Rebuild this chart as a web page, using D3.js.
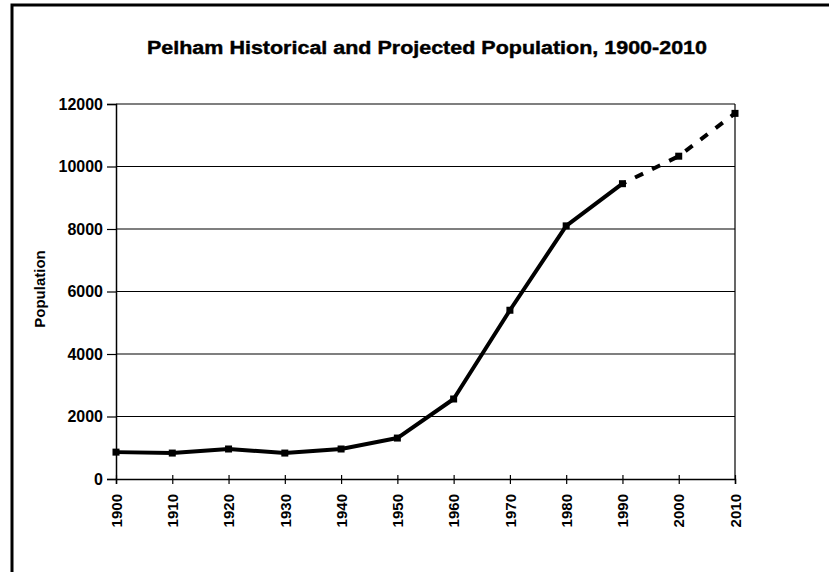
<!DOCTYPE html>
<html>
<head>
<meta charset="utf-8">
<script src="https://cdn.jsdelivr.net/npm/d3@7"></script>
<style>
  body { margin: 0; background: #fff; }
  text { font-family: "Liberation Sans", Arial, sans-serif; font-weight: bold; fill: #000; }
</style>
</head>
<body>
<div id="chart"></div>
<script>
// census years and population (historical to 1990, projected after)
const years = [1900, 1910, 1920, 1930, 1940, 1950, 1960, 1970, 1980, 1990, 2000, 2010];
const population = [860, 830, 960, 830, 960, 1310, 2560, 5400, 8100, 9450, 10330, 11700];
const lastHistorical = 1990;
const yTicks = [0, 2000, 4000, 6000, 8000, 10000, 12000];
const title = "Pelham Historical and Projected Population, 1900-2010";
const yLabel = "Population";

const width = 829, height = 572;
const plot = { left: 116, right: 735, top: 104, bottom: 479 };

const data = years.map((y, i) => ({ year: y, value: population[i] }));
const historical = data.filter(d => d.year <= lastHistorical);
const projected = data.filter(d => d.year >= lastHistorical);

const x = d3.scaleLinear().domain([1900, 2010]).range([plot.left, plot.right]);
const y = d3.scaleLinear().domain([0, 12000]).range([plot.bottom, plot.top]);

const svg = d3.select("#chart").append("svg")
    .attr("width", width)
    .attr("height", height);

svg.append("rect").attr("width", width).attr("height", height).attr("fill", "#fff");

// frame (only top and left edges show in the scan)
svg.append("path")
    .attr("d", `M12,${height} L12,5 L${width},5`)
    .attr("fill", "none")
    .attr("stroke", "#000")
    .attr("stroke-width", 3);

// title - the scanned font runs wider than Liberation, so stretch it
svg.append("text")
    .attr("x", 427)
    .attr("y", 54)
    .attr("text-anchor", "middle")
    .attr("font-size", 17.5)
    .attr("textLength", 560)
    .attr("lengthAdjust", "spacingAndGlyphs")
    .attr("stroke", "#000")
    .attr("stroke-width", 0.4)
    .text(title);

// gridlines
svg.append("g")
    .selectAll("line")
    .data(yTicks.filter(d => d > 0))
    .join("line")
    .attr("x1", plot.left)
    .attr("x2", plot.right)
    .attr("y1", d => y(d))
    .attr("y2", d => y(d))
    .attr("stroke", "#000")
    .attr("stroke-width", 1.2);

// right edge of plot area
svg.append("line")
    .attr("x1", plot.right).attr("x2", plot.right)
    .attr("y1", plot.top).attr("y2", plot.bottom)
    .attr("stroke", "#000")
    .attr("stroke-width", 1.2);

// y axis
const yAxis = d3.axisLeft(y).tickValues(yTicks).tickSize(9).tickPadding(4).tickFormat(d3.format("d"));
svg.append("g")
    .attr("transform", `translate(${plot.left},0)`)
    .call(yAxis)
    .call(g => g.select(".domain").attr("stroke-width", 1.5))
    .call(g => g.selectAll(".tick line").attr("stroke-width", 1.2))
    .call(g => g.selectAll(".tick text")
        .attr("font-size", 16)
        .attr("font-family", "Liberation Sans, Arial, sans-serif")
        .attr("font-weight", "bold"));

// x axis (cross ticks)
const xAxis = d3.axisBottom(x).tickValues(years).tickSize(5).tickFormat(d3.format("d"));
svg.append("g")
    .attr("transform", `translate(0,${plot.bottom})`)
    .call(xAxis)
    .call(g => g.select(".domain").attr("stroke-width", 1.5))
    .call(g => g.selectAll(".tick line").attr("y1", -4).attr("stroke-width", 1.2))
    .call(g => g.selectAll(".tick text")
        .attr("font-size", 15)
        .attr("font-family", "Liberation Sans, Arial, sans-serif")
        .attr("font-weight", "bold")
        .attr("text-anchor", "end")
        .attr("transform", "rotate(-90)")
        .attr("x", -15)
        .attr("y", 0)
        .attr("dy", "0.35em"));

// y label
svg.append("text")
    .attr("transform", "translate(45,289) rotate(-90)")
    .attr("text-anchor", "middle")
    .attr("font-size", 15)
    .text(yLabel);

const line = d3.line().x(d => x(d.year)).y(d => y(d.value));

svg.append("path")
    .datum(historical)
    .attr("d", line)
    .attr("fill", "none")
    .attr("stroke", "#000")
    .attr("stroke-width", 4)
    .attr("stroke-linejoin", "round");

svg.append("path")
    .datum(projected)
    .attr("d", line)
    .attr("fill", "none")
    .attr("stroke", "#000")
    .attr("stroke-width", 4)
    .attr("stroke-dasharray", "9,10")
    .attr("stroke-dashoffset", -14);

// markers
const ms = 7;
svg.append("g")
    .selectAll("rect")
    .data(data)
    .join("rect")
    .attr("x", d => x(d.year) - ms / 2)
    .attr("y", d => y(d.value) - ms / 2)
    .attr("width", ms)
    .attr("height", ms)
    .attr("fill", "#000");
</script>
</body>
</html>
